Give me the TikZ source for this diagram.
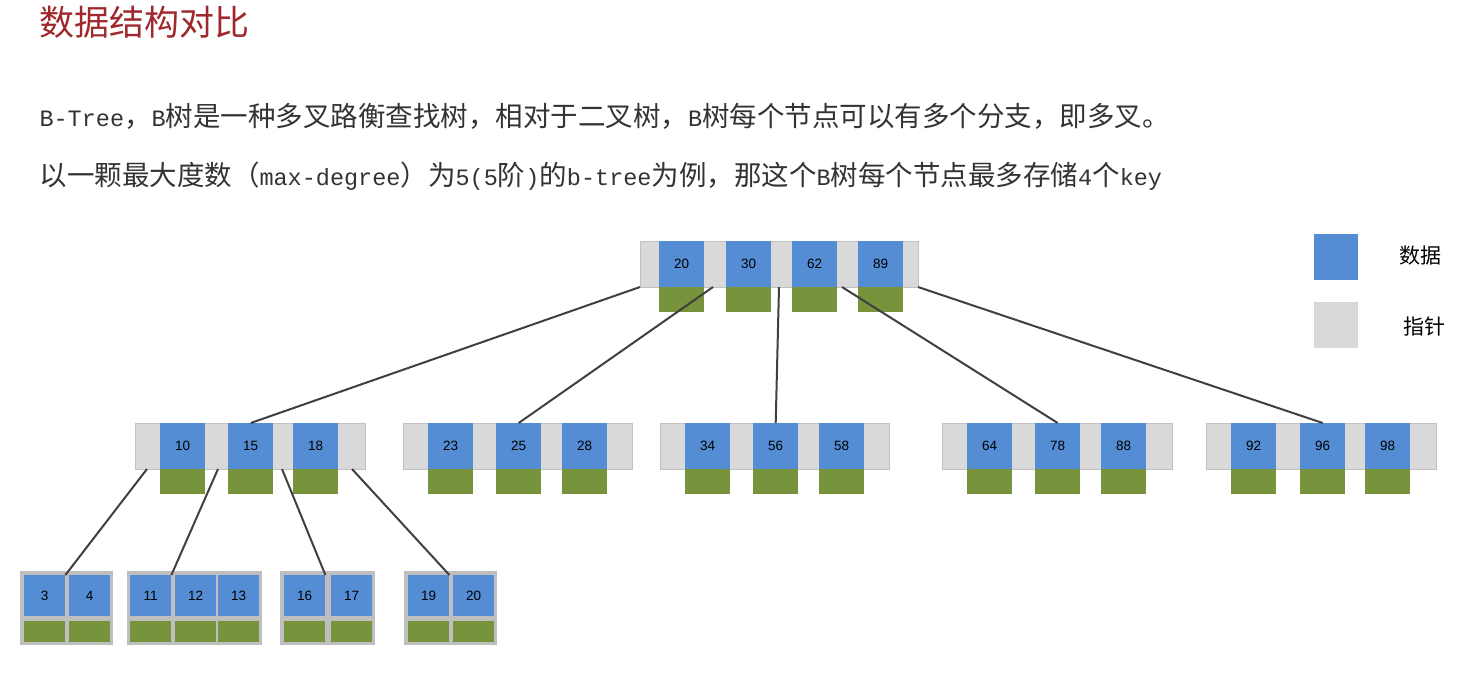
\documentclass[tikz,border=0pt]{standalone}
\usepackage{fontspec}
\newfontfamily\cjk{Noto Sans CJK SC}
\newfontfamily\monof{Liberation Mono}
\newcommand{\mono}{\monof\fontsize{23.5}{28}\selectfont}
\setmainfont{Liberation Sans}
\definecolor{blu}{HTML}{548DD4}
\definecolor{grn}{HTML}{77933C}
\definecolor{gry}{HTML}{D9D9D9}
\definecolor{ttl}{HTML}{A0282C}
\begin{document}
\begin{tikzpicture}[x=1pt,y=-1pt,
 gbox/.style={fill=gry,draw=gry!70!black!60},
 lk/.style={draw=black!75,line width=2pt},
 num/.style={font=\fontsize{13.5}{15}\selectfont}]
\useasboundingbox (0,0) rectangle (1484,673);
\node[anchor=west,text=ttl,font=\cjk\fontsize{35}{40}\selectfont] (title) at (36,22) {数据结构对比};
\node[anchor=west,text=black!80,font=\cjk\fontsize{27.5}{30}\selectfont] (l1) at (36,116) {{\mono B-Tree}，{\mono B}树是一种多叉路衡查找树，相对于二叉树，{\mono B}树每个节点可以有多个分支，即多叉。};
\node[anchor=west,text=black!80,font=\cjk\fontsize{27.5}{30}\selectfont] (l2) at (36,176) {以一颗最大度数（{\mono max-degree}）为{\mono 5(5}阶{\mono )}的{\mono b-tree}为例，那这个{\mono B}树每个节点最多存储{\mono 4}个{\mono key}};
% legend
\fill[blu] (1314,234) rectangle (1358,280);
\fill[gry] (1314,302) rectangle (1358,348);
\node[font=\cjk\fontsize{21}{24}\selectfont] (lg1) at (1420,256) {数据};
\node[font=\cjk\fontsize{21}{24}\selectfont] (lg2) at (1424,327) {指针};
\newcommand{\inode}[5]{%
 \node[gbox,minimum width=#3-#2,minimum height=46,inner sep=0,anchor=north west] (#1) at (#2,#4) {};
 \foreach \bx/\lab [count=\i] in {#5} {
  \node[fill=blu,minimum width=45,minimum height=46,inner sep=0,anchor=north west,num] (#1k\i) at (\bx,#4) {\lab};
  \node[fill=grn,minimum width=45,minimum height=25,inner sep=0,anchor=north west] (#1p\i) at (\bx,#4+46) {};
 }}
\inode{r}{640}{918}{241}{659/20,726/30,792/62,858/89}
\inode{a}{135}{365}{423}{160/10,228/15,293/18}
\inode{b}{403}{632}{423}{428/23,496/25,562/28}
\inode{c}{660}{889}{423}{685/34,753/56,819/58}
\inode{d}{942}{1172}{423}{967/64,1035/78,1101/88}
\inode{e}{1206}{1436}{423}{1231/92,1300/96,1365/98}
\newcommand{\leaf}[4]{%
 \fill[black!25] (#2,571) rectangle (#3,645);
 \foreach \bx/\lab [count=\i] in {#4} {
  \node[fill=blu,minimum width=41,minimum height=41,inner sep=0,anchor=north west,num] (#1k\i) at (\bx,575) {\lab};
  \node[fill=grn,minimum width=41,minimum height=21,inner sep=0,anchor=north west] (#1p\i) at (\bx,621) {};
 }}
\leaf{f}{20}{113}{24/3,69/4}
\leaf{g}{127}{262}{130/11,175/12,218/13}
\leaf{h}{280}{375}{284/16,331/17}
\leaf{i}{404}{497}{408/19,453/20}
\coordinate (r1) at (640,287); \coordinate (r2) at (713,287); \coordinate (r3) at (779,287);
\coordinate (r4) at (842,287); \coordinate (r5) at (918,287);
\coordinate (a1) at (147,469); \coordinate (a2) at (218,469); \coordinate (a3) at (282,469); \coordinate (a4) at (352,469);
\draw[lk] (r1) -- (ak2.north);
\draw[lk] (r2) -- (bk2.north);
\draw[lk] (r3) -- (ck2.north);
\draw[lk] (r4) -- (dk2.north);
\draw[lk] (r5) -- (ek2.north);
\draw[lk] (a1) -- (fk1.north east);
\draw[lk] (a2) -- (gk1.north east);
\draw[lk] (a3) -- (hk1.north east);
\draw[lk] (a4) -- (ik1.north east);
\end{tikzpicture}
\end{document}
